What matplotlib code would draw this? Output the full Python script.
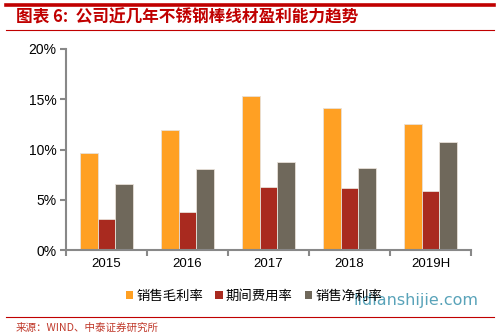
import numpy as np
import matplotlib.pyplot as plt
from matplotlib.patches import Patch
from matplotlib.lines import Line2D

plt.rcParams['font.family'] = ['Liberation Sans', 'Noto Sans CJK SC', 'DejaVu Sans']

years = ["2015", "2016", "2017", "2018", "2019H"]
gross_margin = [9.7, 11.9, 15.3, 14.1, 12.5]
expense_ratio = [3.1, 3.8, 6.3, 6.2, 5.9]
net_margin = [6.6, 8.1, 8.8, 8.2, 10.7]

series_names = ["销售毛利率", "期间费用率", "销售净利率"]
colors = ["#FFA023", "#A92A1F", "#6F685B"]

fig = plt.figure(figsize=(4.99, 3.35), dpi=100)
ax = fig.add_axes([66 / 499, 85 / 335, 405 / 499, 201 / 335])

x = np.arange(len(years))
w = 0.22
for i, (vals, c) in enumerate(zip([gross_margin, expense_ratio, net_margin], colors)):
    ax.bar(x + (i - 1) * w, vals, w, color=c, edgecolor="#e8e0d8", linewidth=0.6, zorder=2)

ax.set_xlim(-0.5, len(years) - 0.5)
ax.set_ylim(0, 20)
ax.set_yticks([0, 5, 10, 15, 20])
ax.set_yticklabels([f"{v}%" for v in [0, 5, 10, 15, 20]], fontsize=10)

ax.set_xticks(np.arange(-0.5, len(years)), minor=False)
ax.set_xticklabels([])
ax.set_xticks(x, minor=True)
ax.set_xticklabels(years, minor=True, fontsize=9.5)
ax.tick_params(axis="x", which="major", length=4, width=1.5, color="#888888", direction="out")
ax.tick_params(axis="x", which="minor", length=0, pad=6)
ax.tick_params(axis="y", length=4, width=1.5, color="#888888", direction="out", pad=3)

for s in ["top", "right"]:
    ax.spines[s].set_visible(False)
for s in ["left", "bottom"]:
    ax.spines[s].set_color("#888888")
    ax.spines[s].set_linewidth(1.5)

# header and footer rules
red = "#C00000"
fig.add_artist(Line2D([6 / 499, 494 / 499], [1 - 5 / 335, 1 - 5 / 335], color=red, lw=2.6))
fig.add_artist(Line2D([6 / 499, 494 / 499], [1 - 30 / 335, 1 - 30 / 335], color=red, lw=0.8))
fig.add_artist(Line2D([6 / 499, 494 / 499], [1 - 316.5 / 335, 1 - 316.5 / 335], color=red, lw=0.8))

fig.text(16 / 499, 1 - 18 / 335, "图表 6:  公司近几年不锈钢棒线材盈利能力趋势", color=red,
         fontsize=12, fontweight="bold", va="center", ha="left",
         family=["Noto Sans CJK SC", "DejaVu Sans"])
fig.text(16 / 499, 1 - 328 / 335, "来源：WIND、中泰证券研究所", color="#C0392B",
         fontsize=7.6, va="center", ha="left", family=["Noto Sans CJK SC", "DejaVu Sans"])

handles = [Patch(facecolor=c, edgecolor="none") for c in colors]
fig.legend(handles, series_names, loc="center", bbox_to_anchor=(254 / 499, 1 - 296 / 335),
           ncol=3, frameon=False, handlelength=0.55, handleheight=0.55,
           handletextpad=0.25, columnspacing=0.9, borderpad=0,
           prop={"family": ["Noto Sans CJK SC", "DejaVu Sans"], "size": 9.6})

fig.text(416 / 499, 1 - 300 / 335, "lidianshijie.com", color="#3C93AD", alpha=0.85,
         fontsize=11.5, va="center", ha="center", family=["DejaVu Sans"])

fig.savefig("out.png", dpi=100)
